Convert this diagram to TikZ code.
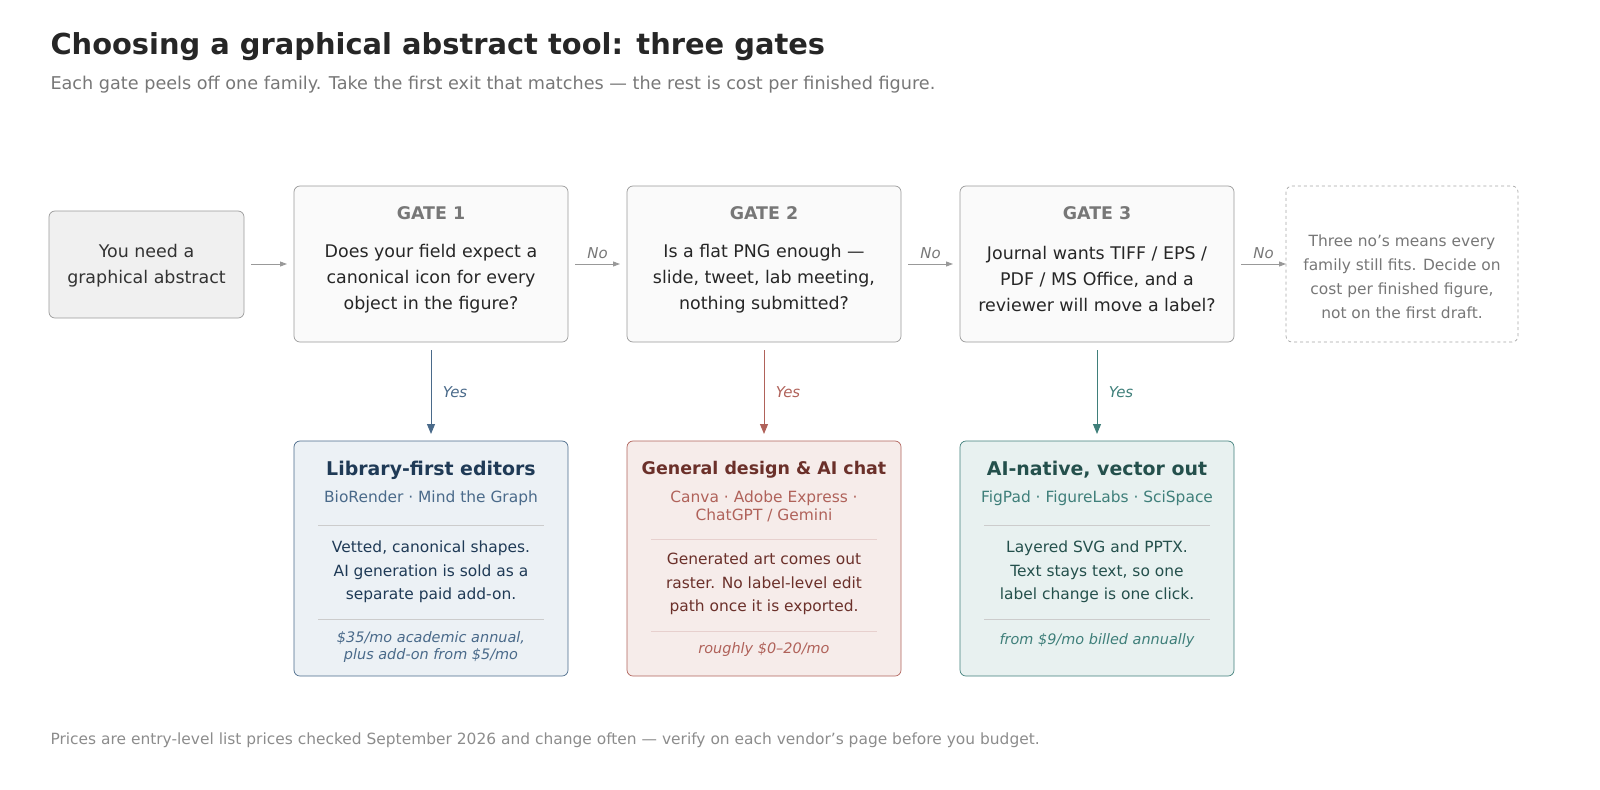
\documentclass[tikz,border=0pt]{standalone}
\usepackage{fontspec}
\setmainfont{DejaVu Sans}
\usetikzlibrary{arrows.meta}
\definecolor{bB}{HTML}{4A6A8A}\definecolor{bD}{HTML}{1F3A56}\definecolor{bF}{HTML}{ECF1F5}
\definecolor{rB}{HTML}{B0625A}\definecolor{rD}{HTML}{6B302A}\definecolor{rF}{HTML}{F6ECEA}
\definecolor{tB}{HTML}{3F7F7A}\definecolor{tD}{HTML}{24504C}\definecolor{tF}{HTML}{E8F1F0}
\definecolor{gT}{HTML}{777777}
\begin{document}
\begin{tikzpicture}[x=1bp,y=-1bp,
 box/.style={draw=#1,rounded corners=6pt,line width=0.7pt},
 txt/.style={align=center,font=\fontsize{17.5}{26}\selectfont,text=#1},
 arr/.style={-{Triangle[length=7pt,width=5pt]},draw=#1,line width=0.9pt},
 varr/.style={-{Triangle[length=10pt,width=8pt]},draw=#1,line width=1pt},
 lab/.style={font=\fontsize{15}{18}\selectfont\itshape,text=#1}]
\useasboundingbox (0,0) rectangle (1600,790);
\node[anchor=west,font=\fontsize{29}{32}\selectfont\bfseries,text=black!85] (title) at (47,47) {Choosing a graphical abstract tool: three gates};
\node[anchor=west,font=\fontsize{17.7}{20}\selectfont,text=gT] (sub) at (47,85) {Each gate peels off one family. Take the first exit that matches — the rest is cost per finished figure.};
\node[anchor=west,font=\fontsize{15.5}{18}\selectfont,text=black!45] (foot) at (47,740) {Prices are entry-level list prices checked September 2026 and change often — verify on each vendor's page before you budget.};
% start
\draw[box=black!40,fill=black!6] (49,211) rectangle (244,318);
\node[txt=black!80] (s) at (146.5,265.5) {You need a\\graphical abstract};
\coordinate (sR) at (251,264);
% gates
\foreach \x/\n/\t in {294/1/{Does your field expect a\\canonical icon for every\\object in the figure?},627/2/{Is a flat PNG enough —\\slide, tweet, lab meeting,\\nothing submitted?},960/3/{Journal wants TIFF / EPS /\\PDF / MS Office, and a\\reviewer will move a label?}}{
 \draw[box=black!40,fill=black!2] (\x,186) rectangle (\x+274,342);
 \node[font=\fontsize{17.5}{20}\selectfont\bfseries,text=gT] (g\n) at (\x+137,213) {GATE \n};
 \node[txt=black!85] (q\n) at (\x+137,279) {\t};
 \coordinate (gL\n) at (\x-7,264);
 \coordinate (gR\n) at (\x+281,264);
 \coordinate (gB\n) at (\x+137,350);
 \coordinate (oT\n) at (\x+137,434);
}
\draw[box=black!35,dashed,fill=white] (1286,186) rectangle (1518,342);
\node[align=center,font=\fontsize{15.5}{24}\selectfont,text=gT] (end) at (1402,277) {Three no's means every\\family still fits. Decide on\\cost per finished figure,\\not on the first draft.};
\coordinate (eL) at (1286,264);
\draw[arr=black!40] (sR) -- (gL1);
\draw[arr=black!40] (gR1) -- node[lab=gT,above=2pt]{No} (gL2);
\draw[arr=black!40] (gR2) -- node[lab=gT,above=2pt]{No} (gL3);
\draw[arr=black!40] (gR3) -- node[lab=gT,above=2pt]{No} (eL);
\draw[varr=bB] (gB1) -- node[lab=bB,right=8pt]{Yes} (oT1);
\draw[varr=rB] (gB2) -- node[lab=rB,right=8pt]{Yes} (oT2);
\draw[varr=tB] (gB3) -- node[lab=tB,right=8pt]{Yes} (oT3);
% outcomes
\draw[box=bB,fill=bF] (294,441) rectangle (568,676);
\node[font=\fontsize{19}{22}\selectfont\bfseries,text=bD] (h1) at (431,470) {Library-first editors};
\node[font=\fontsize{15.5}{18}\selectfont,text=bB] (v1) at (431,498) {BioRender · Mind the Graph};
\draw[black!20] (318,525) -- (544,525);
\node[align=center,font=\fontsize{15.5}{23.5}\selectfont,text=bD] (d1) at (431,572) {Vetted, canonical shapes.\\AI generation is sold as a\\separate paid add-on.};
\draw[black!20] (318,619) -- (544,619);
\node[align=center,font=\fontsize{14.5}{17}\selectfont\itshape,text=bB] (p1) at (431,647) {\$35/mo academic annual,\\plus add-on from \$5/mo};
\draw[box=rB,fill=rF] (627,441) rectangle (901,676);
\node[font=\fontsize{17.5}{22}\selectfont\bfseries,text=rD] (h2) at (764,470) {General design \& AI chat};
\node[align=center,font=\fontsize{15.5}{18}\selectfont,text=rB] (v2) at (764,506) {Canva · Adobe Express ·\\ChatGPT / Gemini};
\draw[rB!30] (651,539) -- (877,539);
\node[align=center,font=\fontsize{15.5}{23.5}\selectfont,text=rD] (d2) at (764,584) {Generated art comes out\\raster. No label-level edit\\path once it is exported.};
\draw[rB!30] (651,631) -- (877,631);
\node[font=\fontsize{14.5}{17}\selectfont\itshape,text=rB] (p2) at (764,650) {roughly \$0–20/mo};
\draw[box=tB,fill=tF] (960,441) rectangle (1234,676);
\node[font=\fontsize{19}{22}\selectfont\bfseries,text=tD] (h3) at (1097,470) {AI-native, vector out};
\node[font=\fontsize{15.5}{18}\selectfont,text=tB] (v3) at (1097,498) {FigPad · FigureLabs · SciSpace};
\draw[black!20] (984,525) -- (1210,525);
\node[align=center,font=\fontsize{15.5}{23.5}\selectfont,text=tD] (d3) at (1097,572) {Layered SVG and PPTX.\\Text stays text, so one\\label change is one click.};
\draw[black!20] (984,619) -- (1210,619);
\node[font=\fontsize{14.5}{17}\selectfont\itshape,text=tB] (p3) at (1097,641) {from \$9/mo billed annually};
\end{tikzpicture}
\end{document}
